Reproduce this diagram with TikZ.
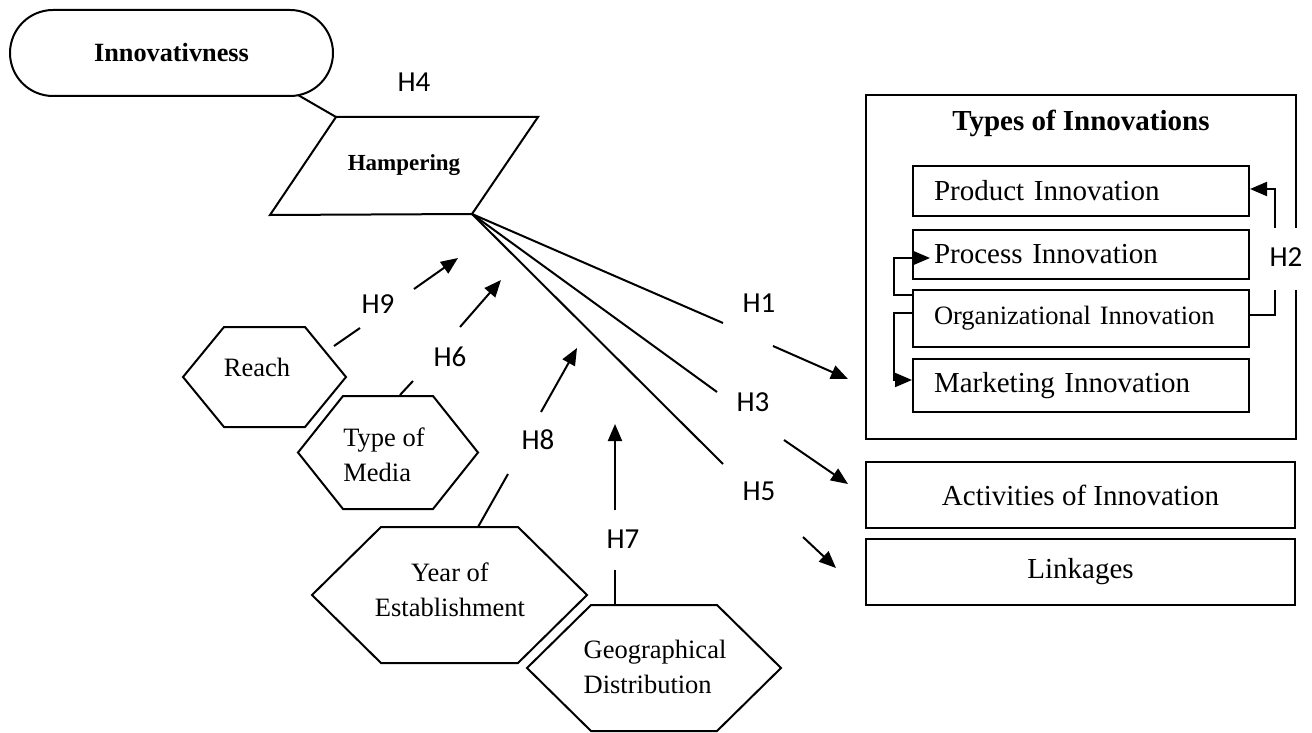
\documentclass[tikz,border=0pt]{standalone}
\usepackage{fontspec}
\setmainfont{Liberation Serif}
\newfontfamily\hfont{Carlito}
\usetikzlibrary{arrows.meta,calc}

% hexagon outline: centre x, centre y, half width, half height, inset of the flat edges
\newcommand\hexoutline[5]{%
  \draw (#1-#3,#2) -- (#1-#3+#5,#2-#4) -- (#1+#3-#5,#2-#4) -- (#1+#3,#2)
        -- (#1+#3-#5,#2+#4) -- (#1-#3+#5,#2+#4) -- cycle;}

\begin{document}
\begin{tikzpicture}[x=1pt,y=-1pt,line width=2pt,
  every node/.style={inner sep=0pt},
  arr/.style={-{Triangle[length=17pt,width=14pt]}},
  hlab/.style={font=\hfont\fontsize{29}{33}\selectfont},
  boxtxt/.style={font=\fontsize{29}{34}\selectfont},
  hextxt/.style={font=\fontsize{26.5}{35}\selectfont},
  typebox/.style={draw,inner xsep=21pt,text width=294pt,align=left,boxtxt},
  widebox/.style={draw,minimum width=429pt,minimum height=66pt,boxtxt},
]
\useasboundingbox (0,0) rectangle (1312,733);

% ---- Innovativness and Hampering ----
\node[draw,rounded corners=43pt,minimum width=323pt,minimum height=86pt,
      font=\bfseries\fontsize{26.3}{30}\selectfont] (innov) at (171.5,53) {Innovativness};
\coordinate (hTL) at (336,117);
\coordinate (hTR) at (538,117);
\coordinate (hBR) at (472,214);
\coordinate (hBL) at (270,215);
\draw (hTL) -- (hTR) -- (hBR) -- (hBL) -- cycle;
\node[font=\bfseries\fontsize{23}{27}\selectfont] (hamp) at (404,165) {Hampering};
\coordinate (innovOut) at (298,95);
\draw (innovOut) -- (hTL);
\node[hlab] (h4) at (414,82) {H4};

% ---- hexagon factors ----
\hexoutline{264.5}{377}{81.5}{50}{41}
\node[hextxt] (reach) at (257,367) {Reach};
\hexoutline{388}{452.5}{90}{56.5}{45}
\node[hextxt,align=left] (media) at (384,455) {Type of\\Media};
\hexoutline{449.5}{595}{137.5}{68}{69}
\node[hextxt,align=center] (year) at (450,590) {Year of\\Establishment};
\hexoutline{654}{668}{127}{63}{64}
\node[hextxt,align=left] (geo) at (655,667) {Geographical\\Distribution};

% ---- connectors from the factors towards Hampering ----
\coordinate (r9a) at (334,346); \coordinate (r9b) at (360,328);
\coordinate (r9c) at (414,289); \coordinate (r9d) at (458,258);
\draw (r9a) -- (r9b);
\node[hlab] (h9) at (378,304) {H9};
\draw[arr] (r9c) -- (r9d);

\coordinate (m6a) at (400,395); \coordinate (m6b) at (413,381);
\coordinate (m6c) at (460,327); \coordinate (m6d) at (501,280);
\draw (m6a) -- (m6b);
\node[hlab] (h6) at (450,357) {H6};
\draw[arr] (m6c) -- (m6d);

\coordinate (y8a) at (478,527); \coordinate (y8b) at (508,474);
\coordinate (y8c) at (541,412); \coordinate (y8d) at (577,348);
\draw (y8a) -- (y8b);
\node[hlab] (h8) at (538,440) {H8};
\draw[arr] (y8c) -- (y8d);

\coordinate (g7a) at (615,605); \coordinate (g7b) at (615,570);
\coordinate (g7c) at (615,510); \coordinate (g7d) at (615,424);
\draw (g7a) -- (g7b);
\node[hlab] (h7) at (623,539) {H7};
\draw[arr] (g7c) -- (g7d);

% ---- Types of Innovations ----
\node[minimum width=428pt,minimum height=342pt] (types) at (1081,267) {};
\draw ($(types.east)+(0,-39)$) -- (types.north east) -- (types.north west)
      -- (types.south west) -- (types.south east) -- ($(types.east)+(0,23)$);
\node[font=\bfseries\fontsize{29}{34}\selectfont] (typestitle) at (1081,123) {Types of Innovations};
\node[typebox,minimum height=50pt] (prod) at (1081,191) {Product Innovation};
\node[typebox,minimum height=49pt] (proc) at (1081,254.5) {Process Innovation};
\node[typebox,minimum height=57pt,font=\fontsize{26.5}{30}\selectfont] (org) at (1081,318.5) {Organizational Innovation};
\node[typebox,minimum height=53pt] (mkt) at (1081,385.5) {Marketing Innovation};

\node[widebox] (act) at (1080.5,495) {Activities of Innovation};
\node[widebox] (link) at (1080.5,572) {Linkages};

% ---- H2 links inside the types box ----
\coordinate (h2low) at (1275,290);
\coordinate (h2high) at (1275,228);
\draw ($(org.east)+(0,-4)$) -| (h2low);
\node[hlab] (h2) at (1286,257) {H2};
\draw[arr] (h2high) |- ($(prod.east)+(0,-2)$);
\draw[arr] ($(org.north west)+(0,6)$) -- ++(-18,0) |- ($(proc.west)+(18,3.5)$);
\draw[arr] ($(org.west)+(0,-5.5)$) -- ++(-18,0) |- ($(mkt.west)+(0,-5.5)$);

% ---- Hampering towards the outcomes ----
\coordinate (o1a) at (723,323); \coordinate (o1b) at (773,346); \coordinate (o1c) at (848,379);
\draw (hBR) -- (o1a);
\node[hlab] (h1) at (759,303) {H1};
\draw[arr] (o1b) -- (o1c);

\coordinate (o3a) at (717,392); \coordinate (o3b) at (784,440); \coordinate (o3c) at (848,484);
\draw (hBR) -- (o3a);
\node[hlab] (h3) at (753,402) {H3};
\draw[arr] (o3b) -- (o3c);

\coordinate (o5a) at (723,464); \coordinate (o5b) at (803,537); \coordinate (o5c) at (836,568);
\draw (hBR) -- (o5a);
\node[hlab] (h5) at (759,491) {H5};
\draw[arr] (o5b) -- (o5c);
\end{tikzpicture}
\end{document}
